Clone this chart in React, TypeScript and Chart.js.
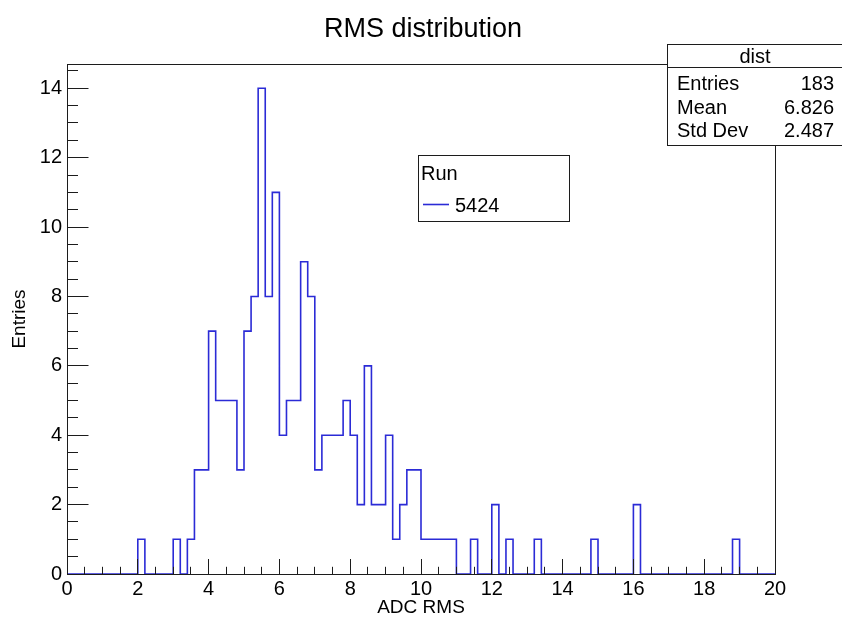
import { useEffect, useRef } from "react";
import { Chart, registerables } from "chart.js";

Chart.register(...registerables);

// Histogram definition: 100 bins of width 0.2 between 0 and 20
const histTitle = "RMS distribution";
const xAxisTitle = "ADC RMS";
const yAxisTitle = "Entries";
const xMin = 0;
const xMax = 20;
const binWidth = 0.2;
const yMax = 14.7;

// Entries per bin, ten bins per row (row n starts at x = 2n)
const binCounts = [
  0, 0, 0, 0, 0, 0, 0, 0, 0, 0,
  1, 0, 0, 0, 0, 1, 0, 1, 3, 3,
  7, 5, 5, 5, 3, 7, 8, 14, 8, 11,
  4, 5, 5, 9, 8, 3, 4, 4, 4, 5,
  4, 2, 6, 2, 2, 4, 1, 2, 3, 3,
  1, 1, 1, 1, 1, 0, 0, 1, 0, 0,
  2, 0, 1, 0, 0, 0, 1, 0, 0, 0,
  0, 0, 0, 0, 1, 0, 0, 0, 0, 0,
  2, 0, 0, 0, 0, 0, 0, 0, 0, 0,
  0, 0, 0, 0, 1, 0, 0, 0, 0, 0,
];

// Legend and statistics box contents
const legendHeader = "Run";
const runLabel = "5424";
const statsName = "dist";
const statsLabels = ["Entries", "Mean", "Std Dev"];
const statsValues = ["183", "6.826", "2.487"];

const FONT = '"Liberation Sans", Arial, Helvetica, sans-serif';
const LINE_BLUE = "#2b2bd6";
const FRAME = "#1c1c1c";

// Outline points: one per bin's upper edge, starting from the lower limit on the baseline
const outlinePoints = [{ x: xMin, y: 0 }].concat(
  binCounts.map((c, i) => ({ x: xMin + (i + 1) * binWidth, y: c }))
);

const crisp = (v: number) => Math.round(v) - 0.5;

// Frame, inward major/minor ticks, drawn on top of the histogram line
const framePlugin = {
  id: "rootFrame",
  afterDatasetsDraw(chart: any) {
    const { ctx, chartArea: a, scales } = chart;
    const xs = scales.x;
    const ys = scales.y;
    const L = crisp(a.left + 0.5);
    const R = crisp(a.right + 0.5);
    const T = crisp(a.top + 0.5);
    const B = crisp(a.bottom + 0.5);
    ctx.save();
    ctx.strokeStyle = FRAME;
    ctx.lineWidth = 1;
    ctx.strokeRect(L, T, R - L, B - T);
    ctx.beginPath();
    for (let k = 0; k * 0.5 <= yMax; k++) {
      const py = crisp(ys.getPixelForValue(k * 0.5) + 0.5);
      const len = k % 4 === 0 ? 21 : 10.5;
      ctx.moveTo(L, py);
      ctx.lineTo(L + len, py);
    }
    for (let k = 0; k * 0.5 <= xMax; k++) {
      const px = crisp(xs.getPixelForValue(k * 0.5) + 0.5);
      const len = k % 4 === 0 ? 15.5 : 7.7;
      ctx.moveTo(px, B);
      ctx.lineTo(px, B - len);
    }
    ctx.stroke();
    ctx.restore();
  },
  afterDraw(chart: any) {
    const { ctx } = chart;
    ctx.save();
    ctx.fillStyle = "#000";
    ctx.textBaseline = "alphabetic";

    // Title
    ctx.font = `27px ${FONT}`;
    ctx.textAlign = "center";
    ctx.fillText(histTitle, 423, 37);

    // Statistics box
    ctx.fillStyle = "#fff";
    ctx.fillRect(667.5, 44.5, 180, 101);
    ctx.strokeStyle = FRAME;
    ctx.lineWidth = 1;
    ctx.strokeRect(667.5, 44.5, 180, 101);
    ctx.beginPath();
    ctx.moveTo(667.5, 67.5);
    ctx.lineTo(848, 67.5);
    ctx.stroke();
    ctx.fillStyle = "#000";
    ctx.font = `20px ${FONT}`;
    ctx.textAlign = "center";
    ctx.fillText(statsName, 755, 63);
    const rowBase = [90, 114, 137];
    statsLabels.forEach((lab, i) => {
      ctx.textAlign = "left";
      ctx.fillText(lab, 677, rowBase[i]);
      ctx.textAlign = "right";
      ctx.fillText(statsValues[i], 834, rowBase[i]);
    });

    // Legend box
    ctx.fillStyle = "#fff";
    ctx.fillRect(418.5, 155.5, 151, 66);
    ctx.strokeRect(418.5, 155.5, 151, 66);
    ctx.fillStyle = "#000";
    ctx.font = `20px ${FONT}`;
    ctx.textAlign = "left";
    ctx.fillText(legendHeader, 421, 180);
    const ds = chart.data.datasets[0];
    ctx.strokeStyle = ds.borderColor;
    ctx.lineWidth = ds.borderWidth;
    ctx.beginPath();
    ctx.moveTo(423, 204.5);
    ctx.lineTo(449, 204.5);
    ctx.stroke();
    ctx.fillText(ds.label, 455, 212);
    ctx.restore();
  },
};

export default function App() {
  const canvasRef = useRef<HTMLCanvasElement | null>(null);

  useEffect(() => {
    const canvas = canvasRef.current;
    if (!canvas) return;
    const chart = new Chart(canvas, {
      type: "line",
      data: {
        datasets: [
          {
            label: runLabel,
            data: outlinePoints,
            stepped: "after",
            borderColor: LINE_BLUE,
            borderWidth: 1.6,
            pointRadius: 0,
            fill: false,
          },
        ],
      },
      options: {
        responsive: false,
        animation: false,
        devicePixelRatio: 1,
        layout: { padding: { left: 0, right: 67, top: 64, bottom: 0 } },
        plugins: {
          legend: { display: false },
          title: { display: false },
          tooltip: { enabled: false },
        },
        scales: {
          x: {
            type: "linear",
            min: xMin,
            max: xMax,
            grid: { display: false, drawTicks: false },
            border: { display: false },
            ticks: {
              stepSize: 2,
              autoSkip: false,
              maxRotation: 0,
              includeBounds: false,
              padding: 3,
              color: "#000",
              font: { family: FONT, size: 20 },
            },
            title: {
              display: true,
              text: xAxisTitle,
              color: "#000",
              font: { family: FONT, size: 19 },
              padding: { top: 0, bottom: 1 },
            },
            afterFit: (s: any) => {
              s.height = 46;
            },
          },
          y: {
            type: "linear",
            min: 0,
            max: yMax,
            grid: { display: false, drawTicks: false },
            border: { display: false },
            ticks: {
              stepSize: 2,
              includeBounds: false,
              padding: 5,
              color: "#000",
              font: { family: FONT, size: 20 },
            },
            title: {
              display: true,
              text: yAxisTitle,
              color: "#000",
              font: { family: FONT, size: 19 },
              padding: { top: 8, bottom: 0 },
            },
            afterFit: (s: any) => {
              s.width = 67;
            },
          },
        },
      },
      plugins: [framePlugin],
    });
    return () => chart.destroy();
  }, []);

  return (
    <div style={{ position: "absolute", left: 0, top: 0, background: "#fff" }}>
      <canvas ref={canvasRef} width={842} height={620} style={{ display: "block" }} />
    </div>
  );
}
